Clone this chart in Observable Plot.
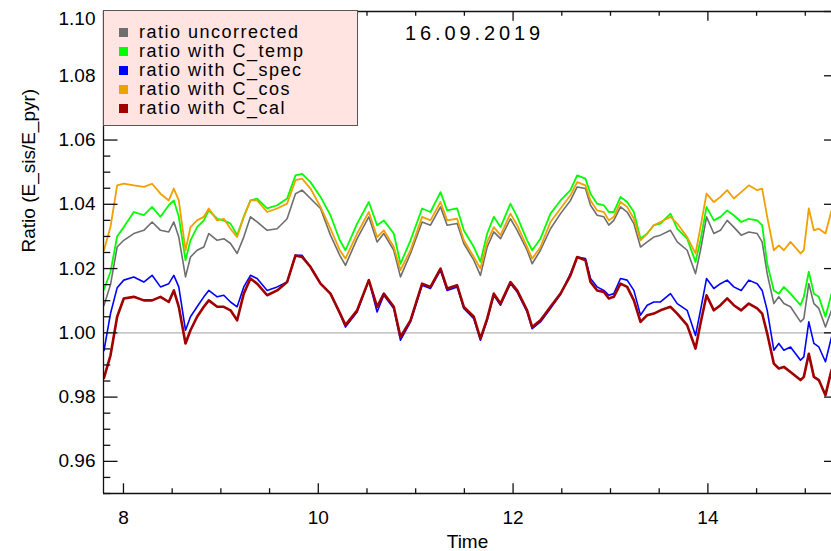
<!DOCTYPE html>
<html><head><meta charset="utf-8">
<script src="https://cdn.jsdelivr.net/npm/d3@7"></script>
<script src="https://cdn.jsdelivr.net/npm/@observablehq/plot@0.6"></script>
<style>
html,body{margin:0;padding:0;background:#fff;overflow:hidden}
#wrap{position:relative;width:831px;height:551px}
#legend{position:absolute;left:103px;top:10px;width:255px;height:116px;background:#ffe4e1;border:1px solid #555;box-sizing:border-box;font-family:"Liberation Sans",Arial,sans-serif;font-size:18px;color:#000}
.row{position:absolute;left:0;height:19px;line-height:19px;white-space:nowrap}
.sw{position:absolute;left:15px;top:5px;width:9px;height:9px}
.lab{position:absolute;left:35px;top:0;letter-spacing:1.5px}
</style></head>
<body><div id="wrap"><div id="chart"></div><div id="legend"></div></div>
<script>
const title = "16.09.2019";
const xLabel = "Time";
const yLabel = "Ratio (E_sis/E_pyr)";
const seriesNames = ["ratio uncorrected","ratio with C_temp","ratio with C_spec","ratio with C_cos","ratio with C_cal"];
const seriesColors = ["#6e6e6e","#00ff00","#0000ff","#f0a000","#a00000"];
const seriesWidths = [1.6,1.8,1.6,1.8,2.6];
const xMajor = [8,10,12,14];
const xMinor = [8.5,9,9.5,10.5,11,11.5,12.5,13,13.5,14.5,15];
const yMajor = [0.96,0.98,1.00,1.02,1.04,1.06,1.08,1.10];
const xDomain = [7.795,15.269];
const yDomain = [0.95,1.10];

const time = [7.800,7.867,7.935,8.003,8.106,8.209,8.294,8.380,8.465,8.517,8.568,8.637,8.688,8.756,8.825,8.876,8.962,9.030,9.099,9.167,9.235,9.304,9.372,9.475,9.578,9.680,9.766,9.834,9.920,10.023,10.125,10.221,
10.279,10.399,10.519,10.604,10.673,10.775,10.844,10.947,11.066,11.152,11.255,11.323,11.426,11.494,11.597,11.665,11.734,11.802,11.871,11.973,12.042,12.144,12.196,12.281,12.384,12.487,
12.589,12.658,12.743,12.795,12.863,12.932,12.983,13.034,13.103,13.171,13.240,13.308,13.377,13.445,13.513,13.616,13.685,13.787,13.873,13.924,13.986,14.061,14.129,14.198,14.266,14.342,14.420,14.506,14.557,14.609,14.677,14.728,14.780,14.848,14.951,14.985,15.036,15.088,15.139,15.207,15.269];

const uncorrected = [1.0085,1.0150,1.0267,1.0288,1.0309,1.0319,1.0345,1.0319,1.0314,1.0345,1.0298,1.0174,1.0236,1.0257,1.0267,1.0309,1.0288,1.0293,1.0278,1.0247,1.0298,1.0361,1.0345,1.0319,1.0324,1.0355,1.0433,1.0444,1.0418,1.0387,1.0304,1.0241,
1.0210,1.0293,1.0361,1.0283,1.0309,1.0257,1.0174,1.0247,1.0345,1.0335,1.0392,1.0335,1.0340,1.0278,1.0226,1.0179,1.0267,1.0314,1.0293,1.0355,1.0319,1.0257,1.0215,1.0257,1.0324,1.0371,
1.0412,1.0454,1.0449,1.0397,1.0366,1.0361,1.0335,1.0350,1.0392,1.0376,1.0340,1.0267,1.0283,1.0298,1.0304,1.0319,1.0283,1.0257,1.0184,1.0257,1.0361,1.0309,1.0319,1.0350,1.0329,1.0304,1.0314,1.0309,1.0283,1.0184,1.0091,1.0112,1.0091,1.0081,1.0034,1.0044,1.0153,1.0091,1.0076,1.0018,1.0070];

const withTemp = [1.0135,1.0190,1.0300,1.0329,1.0376,1.0366,1.0392,1.0361,1.0397,1.0412,1.0361,1.0226,1.0288,1.0329,1.0350,1.0381,1.0355,1.0350,1.0340,1.0304,1.0361,1.0412,1.0418,1.0387,1.0397,1.0418,1.0490,1.0495,1.0469,1.0423,1.0366,1.0288,
1.0257,1.0340,1.0407,1.0335,1.0350,1.0309,1.0215,1.0288,1.0387,1.0376,1.0438,1.0381,1.0387,1.0319,1.0267,1.0221,1.0309,1.0361,1.0329,1.0402,1.0361,1.0288,1.0257,1.0293,1.0371,1.0412,
1.0444,1.0490,1.0480,1.0433,1.0402,1.0397,1.0376,1.0376,1.0423,1.0407,1.0376,1.0293,1.0309,1.0335,1.0340,1.0371,1.0324,1.0293,1.0221,1.0288,1.0392,1.0350,1.0361,1.0381,1.0366,1.0345,1.0355,1.0350,1.0335,1.0215,1.0132,1.0122,1.0143,1.0122,1.0086,1.0112,1.0190,1.0122,1.0112,1.0050,1.0122];

const withSpec = [0.9945,1.0060,1.0140,1.0164,1.0174,1.0158,1.0179,1.0143,1.0153,1.0179,1.0143,1.0008,1.0050,1.0081,1.0112,1.0132,1.0112,1.0117,1.0096,1.0081,1.0143,1.0179,1.0169,1.0132,1.0143,1.0158,1.0241,1.0241,1.0205,1.0153,1.0122,1.0060,
1.0018,1.0065,1.0164,1.0065,1.0117,1.0076,0.9977,1.0034,1.0148,1.0138,1.0195,1.0132,1.0143,1.0076,1.0044,0.9977,1.0039,1.0117,1.0086,1.0153,1.0127,1.0065,1.0013,1.0034,1.0076,1.0120,
1.0184,1.0236,1.0231,1.0169,1.0143,1.0132,1.0117,1.0122,1.0169,1.0164,1.0132,1.0055,1.0086,1.0096,1.0096,1.0122,1.0091,1.0070,0.9992,1.0070,1.0169,1.0138,1.0153,1.0164,1.0143,1.0132,1.0164,1.0153,1.0132,1.0070,0.9946,0.9967,0.9946,0.9956,0.9915,0.9925,1.0034,0.9967,0.9956,0.9910,0.9987];

const withCos = [1.0257,1.0330,1.0459,1.0464,1.0459,1.0454,1.0464,1.0433,1.0412,1.0449,1.0412,1.0257,1.0329,1.0350,1.0361,1.0387,1.0350,1.0355,1.0324,1.0298,1.0361,1.0412,1.0412,1.0376,1.0387,1.0402,1.0475,1.0480,1.0449,1.0392,1.0324,1.0257,
1.0231,1.0309,1.0376,1.0298,1.0319,1.0267,1.0195,1.0257,1.0361,1.0350,1.0407,1.0350,1.0355,1.0288,1.0236,1.0200,1.0283,1.0329,1.0304,1.0371,1.0335,1.0267,1.0231,1.0267,1.0345,1.0387,
1.0428,1.0469,1.0459,1.0412,1.0381,1.0376,1.0350,1.0361,1.0407,1.0392,1.0355,1.0288,1.0309,1.0335,1.0345,1.0361,1.0340,1.0298,1.0247,1.0329,1.0433,1.0407,1.0423,1.0444,1.0418,1.0438,1.0459,1.0444,1.0449,1.0361,1.0257,1.0272,1.0257,1.0283,1.0247,1.0257,1.0387,1.0319,1.0324,1.0309,1.0381];

const withCal = [0.9860,0.9930,1.0050,1.0107,1.0112,1.0101,1.0101,1.0112,1.0096,1.0132,1.0081,0.9967,1.0008,1.0050,1.0081,1.0101,1.0081,1.0081,1.0070,1.0039,1.0122,1.0169,1.0153,1.0117,1.0132,1.0158,1.0241,1.0236,1.0205,1.0153,1.0122,1.0062,
1.0024,1.0070,1.0164,1.0081,1.0122,1.0081,0.9987,1.0039,1.0153,1.0143,1.0200,1.0138,1.0148,1.0081,1.0050,0.9982,1.0044,1.0122,1.0091,1.0158,1.0132,1.0070,1.0018,1.0039,1.0081,1.0122,
1.0179,1.0236,1.0226,1.0158,1.0132,1.0127,1.0107,1.0112,1.0153,1.0143,1.0101,1.0034,1.0055,1.0060,1.0070,1.0081,1.0060,1.0024,0.9951,1.0029,1.0117,1.0070,1.0086,1.0107,1.0086,1.0070,1.0091,1.0076,1.0060,0.9998,0.9904,0.9889,0.9894,0.9878,0.9853,0.9863,0.9935,0.9863,0.9853,0.9806,0.9884];

const seriesValues = [uncorrected, withTemp, withSpec, withCos, withCal];
const drawOrder = [0,1,3,2,4];

const W = 831, H = 551, mL = 103, mR = 0, mT = 11, mB = 58;
const innerW = W - mL - mR, innerH = H - mT - mB;
const yMinor = d3.range(0.95, 1.1001, 0.005).filter(v => !yMajor.some(m => Math.abs(m - v) < 1e-6));

const lineMarks = drawOrder.map(k => Plot.line(time.map((t, i) => ({t, v: seriesValues[k][i]})), {
  x: "t", y: "v", stroke: seriesColors[k], strokeWidth: seriesWidths[k], clip: true
}));

const ink = "#111";
const chart = Plot.plot({
  width: W, height: H,
  marginLeft: mL, marginRight: mR, marginTop: mT, marginBottom: mB,
  style: {fontFamily: "'Liberation Sans', Arial, sans-serif", fontSize: "19px", color: "#000", background: "#fff"},
  x: {domain: xDomain, axis: null},
  y: {domain: yDomain, axis: null},
  marks: [
    Plot.ruleY([1.0], {stroke: "#c8c8c8", strokeWidth: 1.6}),
    ...lineMarks,
    Plot.ruleX([xDomain[0]], {stroke: ink, strokeWidth: 1.3}),
    Plot.ruleY([yDomain[0]], {stroke: ink, strokeWidth: 1.3}),
    Plot.ruleY([yDomain[1]], {stroke: ink, strokeWidth: 1.3}),
    Plot.tickY(yMajor, {stroke: ink, strokeWidth: 1.3, insetRight: innerW - 14.5}),
    Plot.tickY(yMinor, {stroke: ink, strokeWidth: 1.3, insetRight: innerW - 7.3}),
    Plot.tickY(yMajor, {stroke: ink, strokeWidth: 1.3, insetLeft: innerW - 7}),
    Plot.tickX(xMajor, {stroke: ink, strokeWidth: 1.3, insetTop: innerH - 9.7}),
    Plot.tickX(xMinor, {stroke: ink, strokeWidth: 1.3, insetTop: innerH - 4.8}),
    Plot.tickX(xMajor, {stroke: ink, strokeWidth: 1.3, insetBottom: innerH - 9.7}),
    Plot.tickX(xMinor, {stroke: ink, strokeWidth: 1.3, insetBottom: innerH - 4.8}),
    Plot.axisY(yMajor.filter(v => v < 1.095), {anchor: "left", tickSize: 0, tickPadding: 8, tickFormat: d3.format(".2f"), label: null}),
    Plot.axisY(yMajor.filter(v => v > 1.095), {anchor: "left", tickSize: 0, tickPadding: 8, dy: 7, tickFormat: d3.format(".2f"), label: null}),
    Plot.axisX(xMajor, {anchor: "bottom", tickSize: 0, tickPadding: 17, tickFormat: d3.format("d"), label: null}),
    Plot.text([xLabel], {frameAnchor: "bottom", lineAnchor: "middle", dy: 48, fill: "#000"}),
    Plot.text([yLabel], {frameAnchor: "left", dx: -75, rotate: -90, fill: "#000"}),
    Plot.text([title], {frameAnchor: "top", lineAnchor: "middle", dx: 7, dy: 22, fill: "#000", fontSize: 20})
  ]
});
document.getElementById("chart").appendChild(chart);
chart.querySelectorAll("text").forEach(t => { if (t.textContent === title) t.setAttribute("letter-spacing", "3.9"); });

const legend = document.getElementById("legend");
seriesNames.forEach((name, k) => {
  const row = document.createElement("div");
  row.className = "row";
  row.style.top = (11.5 + k * 19.2) + "px";
  const sw = document.createElement("div");
  sw.className = "sw"; sw.style.background = seriesColors[k];
  const lab = document.createElement("div");
  lab.className = "lab"; lab.textContent = name;
  row.appendChild(sw); row.appendChild(lab);
  legend.appendChild(row);
});
</script></body></html>
